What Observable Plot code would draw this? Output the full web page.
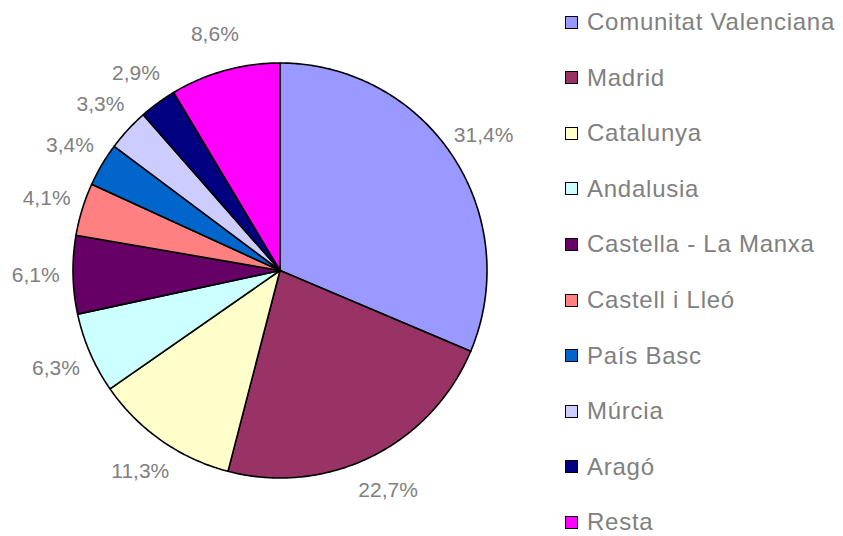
<!DOCTYPE html>
<html>
<head>
<meta charset="utf-8">
<script src="https://cdn.jsdelivr.net/npm/d3@7"></script>
<script src="https://cdn.jsdelivr.net/npm/@observablehq/plot@0.6"></script>
<style>
  html, body { margin: 0; padding: 0; background: #fff; }
  #wrap { position: relative; width: 843px; height: 536px; overflow: hidden; }
  #legend { position: absolute; left: 565px; top: 0; font-family: "Liberation Sans", Arial, sans-serif; font-size: 24px; letter-spacing: 0.75px; color: #808080; }
  .row { position: absolute; left: 0; height: 28px; display: flex; align-items: center; white-space: nowrap; }
  .sw { width: 11px; height: 11px; border: 1.5px solid #000; margin-right: 9px; flex: none; }
</style>
</head>
<body>
<div id="wrap"><div id="chart"></div><div id="legend"></div></div>
<script>
const regions = ["Comunitat Valenciana", "Madrid", "Catalunya", "Andalusia", "Castella - La Manxa", "Castell i Lleó", "País Basc", "Múrcia", "Aragó", "Resta"];
const shares = [31.4, 22.7, 11.3, 6.3, 6.1, 4.1, 3.4, 3.3, 2.9, 8.6];
const colors = ["#9999FF", "#993366", "#FFFFCC", "#CCFFFF", "#660066", "#FF8080", "#0066CC", "#CCCCFF", "#000080", "#FF00FF"];
const labels = ["31,4%", "22,7%", "11,3%", "6,3%", "6,1%", "4,1%", "3,4%", "3,3%", "2,9%", "8,6%"];

const arcs = d3.pie().sort(null).value(d => d)(shares);

// polygon vertices for each slice, in unit-circle data space (clockwise from top)
const poly = [];
arcs.forEach((a, i) => {
  const name = regions[i];
  poly.push({name, x: 0, y: 0});
  const n = Math.max(4, Math.ceil((a.endAngle - a.startAngle) / 0.01));
  for (let k = 0; k <= n; k++) {
    const t = a.startAngle + (a.endAngle - a.startAngle) * k / n;
    poly.push({name, x: Math.sin(t), y: Math.cos(t)});
  }
  poly.push({name, x: 0, y: 0});
});

const lab = arcs.map((a, i) => {
  const m = (a.startAngle + a.endAngle) / 2;
  return {text: labels[i], x: 1.18 * Math.sin(m), y: 1.18 * Math.cos(m)};
});

const chart = Plot.plot({
  width: 843,
  height: 536,
  margin: 0,
  x: {domain: [-1, 1], range: [72.5, 486.5], axis: null},
  y: {domain: [-1, 1], range: [477.5, 62.5], axis: null},
  color: {domain: regions, range: colors},
  style: {background: "white"},
  marks: [
    Plot.line(poly, {x: "x", y: "y", z: "name", fill: "name", stroke: "#000", strokeWidth: 1.6, strokeLinejoin: "round", curve: "linear"}),
    Plot.text(lab, {x: "x", y: "y", text: "text", fill: "#808080", fontSize: 21, fontFamily: "Liberation Sans, Arial, sans-serif", textAnchor: "middle", style: "letter-spacing:0.5px"})
  ]
});
document.getElementById("chart").appendChild(chart);

const legend = document.getElementById("legend");
regions.forEach((r, i) => {
  const row = document.createElement("div");
  row.className = "row";
  row.style.top = (8 + i * 55.6) + "px";
  const sw = document.createElement("span");
  sw.className = "sw";
  sw.style.background = colors[i];
  const tx = document.createElement("span");
  tx.textContent = r;
  row.appendChild(sw);
  row.appendChild(tx);
  legend.appendChild(row);
});
</script>
</body>
</html>
